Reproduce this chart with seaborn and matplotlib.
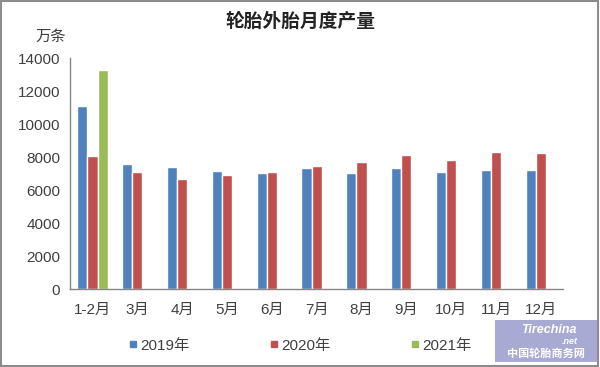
import pandas as pd
import matplotlib.pyplot as plt
import seaborn as sns
import numpy as np
from matplotlib.patches import Rectangle
from matplotlib.lines import Line2D

# Data (万条)
months = ['1-2月', '3月', '4月', '5月', '6月', '7月', '8月', '9月', '10月', '11月', '12月']
y2019 = [11100, 7600, 7400, 7170, 7010, 7310, 7030, 7350, 7110, 7210, 7210]
y2020 = [8080, 7100, 6650, 6890, 7070, 7470, 7700, 8120, 7820, 8320, 8230]
y2021 = [13300, np.nan, np.nan, np.nan, np.nan, np.nan, np.nan, np.nan, np.nan, np.nan, np.nan]
years = ['2019年', '2020年', '2021年']
colors = ['#4F81BD', '#C0504D', '#9BBB59']

df = pd.DataFrame({
    'month': months * 3,
    'year': [years[0]] * len(months) + [years[1]] * len(months) + [years[2]] * len(months),
    'value': y2019 + y2020 + y2021,
})

sns.set_style('white')
plt.rcParams['font.family'] = ['Liberation Sans', 'Noto Sans CJK SC', 'DejaVu Sans']
text_color = '#404040'
axis_color = '#868686'

fig = plt.figure(figsize=(6, 3.67), dpi=100)
ax = fig.add_axes([0.1167, 0.2125, 0.822, 0.6294])

sns.barplot(data=df, x='month', y='value', hue='year', palette=colors,
            width=0.68, ax=ax, legend=False, saturation=1)

ax.set_xlim(-0.5, len(months) - 0.5)
ax.set_ylim(0, 14000)
ax.set_yticks(np.arange(0, 14001, 2000))
ax.set_xlabel('')
ax.set_ylabel('')

for s in ['top', 'right']:
    ax.spines[s].set_visible(False)
for s in ['left', 'bottom']:
    ax.spines[s].set_color(axis_color)
    ax.spines[s].set_linewidth(1)

ax.tick_params(axis='y', length=4, color=axis_color, labelsize=11, labelcolor=text_color, pad=3)
ax.tick_params(axis='x', which='major', length=0, labelsize=11, labelcolor=text_color, pad=10)
ax.set_xticks(np.arange(-0.5, len(months)), minor=True)
ax.tick_params(axis='x', which='minor', length=4, color=axis_color)

fig.text(0.5, 0.94, '轮胎外胎月度产量', ha='center', va='center',
         fontsize=13.5, fontweight='bold', color='#222222')
fig.text(0.085, 0.9, '万条', ha='center', va='center', fontsize=11, color=text_color)

handles = [Line2D([], [], marker='s', linestyle='', markersize=5, color=c) for c in colors]
fig.legend(handles, years, loc='center', bbox_to_anchor=(0.5, 0.058), ncol=3,
           frameon=False, fontsize=11, handlelength=0.6, handletextpad=0.2,
           columnspacing=5.2, labelcolor=text_color)

# watermark box
fig.patches.append(Rectangle((0.825, 0.013), 0.17, 0.115, transform=fig.transFigure,
                             facecolor='#A9AAD4', edgecolor='none', zorder=5))
fig.text(0.915, 0.1, 'Tirechina', ha='center', va='center', fontsize=9,
         fontstyle='italic', fontweight='bold', color='white', zorder=6)
fig.text(0.95, 0.07, '.net', ha='center', va='center', fontsize=6.5,
         fontstyle='italic', fontweight='bold', color='white', zorder=6)
fig.text(0.91, 0.037, '中国轮胎商务网', ha='center', va='center', fontsize=8,
         fontweight='bold', color='white', zorder=6)

# outer frame
fig.patches.append(Rectangle((0.002, 0.003), 0.995, 0.994, transform=fig.transFigure,
                             facecolor='none', edgecolor='#8C8C8C', linewidth=1.5))

plt.savefig('out.png', dpi=100)
